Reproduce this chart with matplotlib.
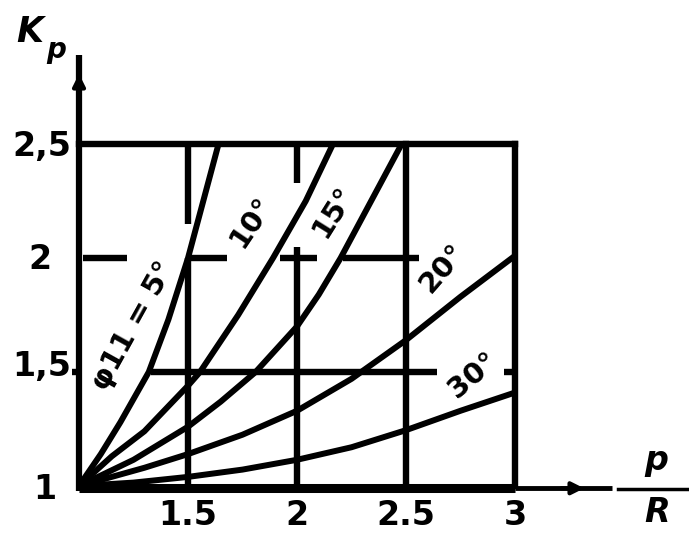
import numpy as np
import matplotlib
matplotlib.use("Agg")
import matplotlib.pyplot as plt

# curves K_p vs p/R
x_5 = [1.0, 1.1, 1.19, 1.32, 1.41, 1.5, 1.57, 1.64]
k_5 = [1.0, 1.14, 1.28, 1.5, 1.73, 2.0, 2.25, 2.5]
x_10 = [1.0, 1.15, 1.3, 1.5, 1.555, 1.73, 1.89, 2.04, 2.165]
k_10 = [1.0, 1.13, 1.24, 1.44, 1.5, 1.75, 2.0, 2.25, 2.5]
x_15 = [1.0, 1.25, 1.5, 1.65, 1.81, 2.0, 2.1, 2.2, 2.34, 2.48]
k_15 = [1.0, 1.115, 1.26, 1.37, 1.5, 1.7, 1.84, 2.0, 2.25, 2.5]
x_20 = [1.0, 1.3, 1.5, 1.75, 2.0, 2.25, 2.5, 2.75, 3.0]
k_20 = [1.0, 1.08, 1.14, 1.225, 1.33, 1.47, 1.64, 1.83, 2.01]
x_30 = [1.0, 1.25, 1.5, 1.75, 2.0, 2.25, 2.5, 2.75, 3.0]
k_30 = [1.0, 1.015, 1.04, 1.072, 1.115, 1.17, 1.245, 1.33, 1.41]

curve_labels = ["φ11 = 5°", "10°", "15°", "20°", "30°"]
x_ticks = [1.5, 2, 2.5, 3]
x_tick_labels = ["1.5", "2", "2.5", "3"]
y_ticks = [1, 1.5, 2, 2.5]
y_tick_labels = ["1", "1,5", "2", "2,5"]

plt.rcParams['font.family'] = ['DejaVu Sans']

fig = plt.figure(figsize=(6.89, 5.33), dpi=100)
ax = fig.add_axes([0, 0, 1, 1])
ax.set_xlim(0.6376, 3.798)
ax.set_ylim(0.7939, 3.1316)
ax.axis("off")


def px(u):
    # pixel column -> data x, only for placing text
    return 1 + (u - 79) / 218


def py(v):
    # pixel row -> data y
    return 1 + (486 - v) / 228


lw_grid = 4.6
lw_curve = 4.3
k = "black"

# frame and partial grid lines (broken where the labels sit in the original)
ax.plot([1, 3], [2.5, 2.5], color=k, lw=lw_grid, solid_capstyle="projecting")
ax.plot([3, 3], [1, 2.5], color=k, lw=lw_grid, solid_capstyle="projecting")
ax.plot([2.5, 2.5], [1, 2.5], color=k, lw=lw_grid)
for seg in [(1, 2.0), (2.15, 2.5)]:
    ax.plot([1.5, 1.5], seg, color=k, lw=lw_grid, solid_capstyle="butt")
for seg in [(1, 2.05), (2.33, 2.5)]:
    ax.plot([2, 2], seg, color=k, lw=lw_grid, solid_capstyle="butt")
for seg in [(1.02, 1.22), (1.51, 1.68), (1.92, 2.09), (2.21, 2.56)]:
    ax.plot(seg, [2, 2], color=k, lw=lw_grid, solid_capstyle="butt")
for seg in [(1.33, 2.64), (2.95, 3.0), (0.97, 1.0)]:
    ax.plot(seg, [1.5, 1.5], color=k, lw=lw_grid, solid_capstyle="butt")

# axes with arrows
ax.plot([1, 3.0], [0.99, 0.99], color=k, lw=6.5, solid_capstyle="butt")
ax.plot([3.0, 3.445], [0.99, 0.99], color=k, lw=3.5, solid_capstyle="butt")
ax.annotate("", xy=(3.33, 0.99), xytext=(3.2, 0.99),
            arrowprops=dict(arrowstyle="-|>", color=k, lw=3, mutation_scale=18))
ax.plot([1, 1], [0.98, 2.89], color=k, lw=4.5, solid_capstyle="butt")
ax.annotate("", xy=(1, 2.82), xytext=(1, 2.6),
            arrowprops=dict(arrowstyle="-|>", color=k, lw=3, mutation_scale=18))

# curves
for xs, ks in [(x_5, k_5), (x_10, k_10), (x_15, k_15), (x_20, k_20), (x_30, k_30)]:
    ax.plot(xs, ks, color=k, lw=lw_curve, solid_capstyle="round", solid_joinstyle="round")

# curve labels (rotated along the curves)
lab_pos = [(133, 326, 61), (251, 222, 56), (333, 211, 58), (443, 268, 49), (473, 375, 40)]
for txt, (lx, ly, rot) in zip(curve_labels, lab_pos):
    ax.text(px(lx), py(ly), txt, fontsize=21, rotation=rot, ha="center", va="center",
            fontweight="bold")

# tick labels
for xv, t in zip(x_ticks, x_tick_labels):
    ax.text(xv, py(515), t, fontsize=24, ha="center", va="center", fontweight="bold")
ylab_px = [45, 42, 40, 42]
ylab_py = [489, 366, 259, 146]
for t, lx, ly in zip(y_tick_labels, ylab_px, ylab_py):
    ax.text(px(lx), py(ly), t, fontsize=24, ha="center", va="center", fontweight="bold")

# axis titles
ax.text(px(30), py(32), "K", fontsize=25, ha="center", va="center",
        fontstyle="italic", fontweight="bold")
ax.text(px(56), py(50), "p", fontsize=20, ha="center", va="center",
        fontstyle="italic", fontweight="bold")
ax.plot([px(618), px(689)], [py(489), py(489)], color=k, lw=2.5)
ax.text(px(656), py(460), "p", fontsize=24, ha="center", va="center",
        fontstyle="italic", fontweight="bold")
ax.text(px(657), py(512), "R", fontsize=24, ha="center", va="center",
        fontstyle="italic", fontweight="bold")

fig.savefig("out.png", dpi=100)
